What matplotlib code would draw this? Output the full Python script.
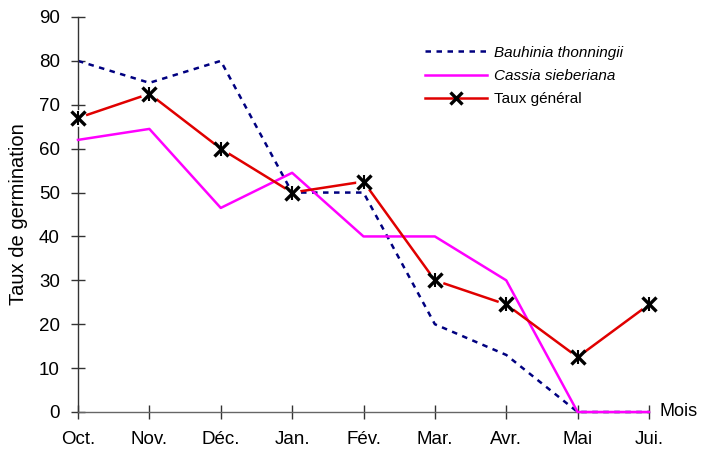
import matplotlib
matplotlib.use("Agg")
import matplotlib.pyplot as plt
from matplotlib.lines import Line2D

months = ["Oct.", "Nov.", "Déc.", "Jan.", "Fév.", "Mar.", "Avr.", "Mai", "Jui."]
bauhinia = [80, 75, 80, 50, 50, 20, 13, 0, 0]
cassia = [62, 64.5, 46.5, 54.5, 40, 40, 30, 0, 0]
general = [67, 72.5, 60, 50, 52.5, 30, 24.5, 12.5, 24.5]
yticks = [0, 10, 20, 30, 40, 50, 60, 70, 80, 90]

plt.rcParams['font.family'] = ['Liberation Sans', 'DejaVu Sans']

fig = plt.figure(figsize=(7.02, 4.49), dpi=100)
ax = fig.add_axes([78/702, 1-412/449, (649-78)/702, (412-17)/449])
x = list(range(len(months)))

ax.plot(x, bauhinia, color="#000080", lw=1.8, dashes=(2.2, 2.2), zorder=2)
ax.plot(x, cassia, color="#FF00FF", lw=1.8, zorder=3)
ax.plot(x, general, color="#E00000", lw=1.8, zorder=4)
ax.plot(x, general, ls="none", marker="o", ms=12, mfc="white", mec="none", zorder=5)
ax.plot(x, general, ls="none", marker="x", ms=10, mew=2.4, color="black", zorder=6)
ax.plot(x, general, ls="none", marker="|", ms=10, mew=1.5, color="black", zorder=6)

ax.set_xlim(0, len(months) - 1)
ax.set_ylim(0, 90)
ax.set_xticks(x)
ax.set_xticklabels(months, fontsize=13.5)
ax.set_yticks(yticks)
ax.set_yticklabels([str(v) for v in yticks], fontsize=13.5)
for s in ["top", "right"]:
    ax.spines[s].set_visible(False)
for s in ["left", "bottom"]:
    ax.spines[s].set_color("#333333")
    ax.spines[s].set_linewidth(1.0)
ax.spines["bottom"].set_color("#666666")
ax.tick_params(axis="x", direction="inout", length=10, width=1, color="#333333", pad=9)
ax.tick_params(axis="y", direction="inout", length=10, width=1, color="#333333", pad=8)
ax.set_ylabel("Taux de germination", fontsize=14.5, labelpad=8)
ax.text(1.018, 0, "Mois", transform=ax.transAxes, fontsize=13, va="center", ha="left")
for l in ax.lines:
    l.set_clip_on(False)

h1 = Line2D([], [], color="#000080", lw=1.8, dashes=(2.2, 2.2))
h2 = Line2D([], [], color="#FF00FF", lw=1.8)
h3 = Line2D([], [], color="#E00000", lw=1.8, marker="x", ms=9, mew=2.4, mec="black")
leg = ax.legend([h1, h2, h3], ["Bauhinia thonningii", "Cassia sieberiana", "Taux général"],
                loc="upper left", bbox_to_anchor=(0.583, 0.962), frameon=False,
                fontsize=11, handlelength=4.1, handletextpad=0.45, labelspacing=0.6)
texts = leg.get_texts()
texts[0].set_style("italic")
texts[1].set_style("italic")

fig.savefig("out.png", dpi=100)
